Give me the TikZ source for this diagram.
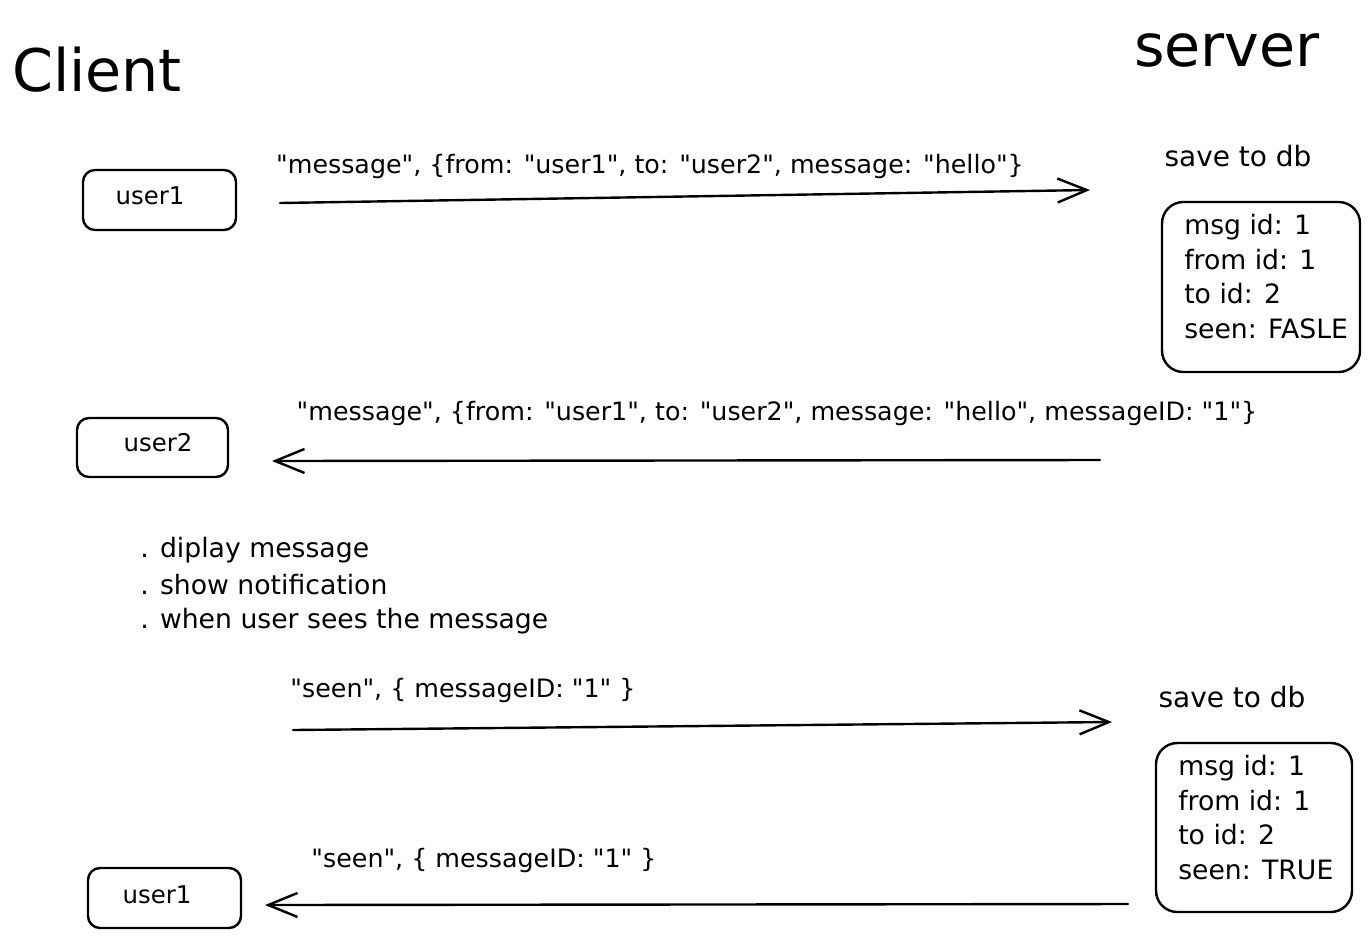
\documentclass[tikz,border=0pt]{standalone}
\usepackage{fontspec}
\newfontfamily\hand{DejaVu Sans}
\usetikzlibrary{arrows.meta}
\begin{document}
\begin{tikzpicture}[x=0.75pt,y=-0.75pt,
  ubox/.style={draw,line width=1.8pt,rounded corners=9pt,inner sep=0pt},
  dbbox/.style={draw,line width=1.8pt,rounded corners=16pt,inner sep=0pt},
  msg/.style={line width=1.8pt,line cap=round,-{Straight Barb[length=22pt,width=18pt,line width=1.8pt]}},
  lbl/.style={font=\hand\fontsize{19}{22}\selectfont,inner sep=0pt},
  note/.style={font=\hand\fontsize{20}{24}\selectfont,inner sep=0pt,anchor=west},
  save/.style={font=\hand\fontsize{21}{24}\selectfont,inner sep=0pt},
  user/.style={font=\hand\fontsize{18.3}{22}\selectfont,inner sep=0pt},
  big/.style={font=\hand\fontsize{44}{50}\selectfont,inner sep=0pt},
  dbtxt/.style={font=\hand\fontsize{20}{26}\selectfont,inner sep=0pt,align=left,anchor=north west}]
\useasboundingbox (0,0) rectangle (1369,936);
\node[big] (client) at (97,70) {Client};
\node[big] (server) at (1227,50) {server};
% row 1
\draw[ubox] (83,170) rectangle (236,230);
\node[user] (u1a) at (150,196) {user1};
\coordinate (a1s) at (280,203);
\coordinate (a1e) at (1090,190);
\draw[msg] (a1s) -- (a1e);
\node[lbl] (l1) at (650,167) {"message", \{from: "user1", to: "user2", message: "hello"\}};
\node[save] (s1) at (1238,156) {save to db};
\draw[dbbox] (1162,202) rectangle (1360,372);
\node[dbtxt] (db1) at (1184,214) {msg id: 1\\from id: 1\\to id: 2\\seen: FASLE};
% row 2
\draw[ubox] (77,418) rectangle (228,477);
\node[user] (u2) at (158,443) {user2};
\coordinate (a2s) at (1100,460);
\coordinate (a2e) at (272,461);
\draw[msg] (a2s) -- (a2e);
\node[lbl] (l2) at (777,414) {"message", \{from: "user1", to: "user2", message: "hello", messageID: "1"\}};
% bullets
\node[note] (b1) at (140,550) {. diplay message};
\node[note] (b2) at (140,585) {. show notification};
\node[note] (b3) at (140,621) {. when user sees the message};
% row 3
\coordinate (a3s) at (293,730);
\coordinate (a3e) at (1112,722);
\draw[msg] (a3s) -- (a3e);
\node[lbl] (l3) at (463,690) {"seen", \{ messageID: "1" \}};
\node[save] (s2) at (1232,697) {save to db};
\draw[dbbox] (1156,743) rectangle (1352,912);
\node[dbtxt] (db2) at (1178,755) {msg id: 1\\from id: 1\\to id: 2\\seen: TRUE};
% row 4
\coordinate (a4s) at (1128,904);
\coordinate (a4e) at (265,905);
\draw[msg] (a4s) -- (a4e);
\node[lbl] (l4) at (484,860) {"seen", \{ messageID: "1" \}};
\draw[ubox] (88,868) rectangle (241,928);
\node[user] (u1b) at (157,895) {user1};
\end{tikzpicture}
\end{document}
